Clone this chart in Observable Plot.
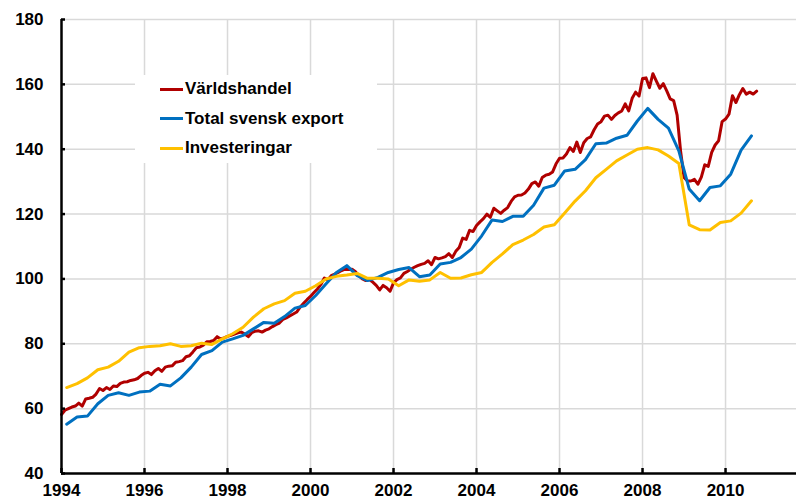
<!DOCTYPE html>
<html><head><meta charset="utf-8">
<script src="https://cdn.jsdelivr.net/npm/d3@7"></script>
<script src="https://cdn.jsdelivr.net/npm/@observablehq/plot@0.6"></script>
<style>
body{margin:0;background:#fff;}
#wrap{position:relative;width:796px;height:502px;font-family:"Liberation Sans",Arial,sans-serif;}
#legend{position:absolute;left:135px;top:75px;width:242px;height:88px;background:#fff;}
.sw{position:absolute;left:25px;width:23px;height:3px;}
.lab{position:absolute;left:50px;font-weight:bold;font-size:17px;white-space:nowrap;line-height:20px;color:#000;}
</style></head>
<body><div id="wrap"></div>
<script>
const seriesNames = ["Världshandel", "Total svensk export", "Investeringar"];
const seriesColors = ["#B00000", "#0070C0", "#FFC000"];

// Världshandel, monthly from Jan 1994 to Oct 2010
const varldshandel = [
  58.2, 59.5, 60.0, 60.5, 60.8, 61.7, 60.8, 63.0, 63.2, 63.5, 64.5, 66.2,
  65.6, 66.5, 65.9, 67.0, 66.8, 67.8, 68.2, 68.3, 68.7, 68.9, 69.3, 70.2,
  70.9, 71.2, 70.5, 71.7, 72.4, 71.5, 72.8, 73.1, 73.2, 74.3, 74.5, 74.8,
  76.0, 76.3, 77.5, 78.8, 79.0, 79.6, 80.6, 80.7, 81.0, 82.2, 81.5, 81.8,
  82.3, 82.6, 83.0, 83.4, 83.6, 83.0, 82.2, 83.4, 83.9, 84.0, 83.6, 84.2,
  84.6, 85.3, 85.9, 86.4, 87.5, 88.0, 88.6, 89.2, 89.8, 91.3, 92.5, 93.6,
  94.6, 95.8, 96.9, 98.3, 100.3, 99.7, 101.0, 101.5, 102.0, 102.6, 103.0, 102.9,
  103.0, 102.2, 101.0, 100.0, 99.5, 99.8, 99.0, 98.0, 96.6, 98.0, 97.3, 96.2,
  98.8, 99.8, 100.3, 101.7, 102.3, 103.0, 103.6, 104.1, 104.5, 104.8, 105.6, 104.4,
  106.6, 106.2, 106.5, 106.9, 107.8, 106.6, 108.5, 109.7, 112.6, 112.2, 115.0, 114.6,
  116.5, 117.6, 118.6, 120.0, 119.0, 121.8, 121.0, 120.2, 121.2, 122.0, 123.9, 125.3,
  125.8, 125.9, 126.5, 127.7, 129.4, 129.9, 128.6, 131.3, 132.0, 132.3, 133.0, 135.5,
  137.2, 137.3, 138.5, 140.5, 139.3, 142.2, 139.0, 142.0, 143.3, 143.8, 146.0, 147.8,
  148.5, 150.2, 150.5, 149.2, 150.4, 151.2, 151.8, 154.0, 151.8, 155.7, 157.6, 156.4,
  161.8, 162.0, 159.0, 163.3, 161.0, 158.8, 160.2, 158.0, 155.5, 155.0, 150.5, 139.5,
  131.3, 130.2, 130.2, 130.7, 129.2, 131.4, 135.2, 134.7, 139.0, 141.3, 142.6, 148.5,
  149.3, 150.8, 156.5, 154.4, 156.8, 158.7, 157.0, 157.6, 157.0, 157.9
];

// Total svensk export, quarterly from 1994Q1 to 2010Q3
const export_ = [
  55.2, 57.4, 57.7, 61.5,
  64.1, 64.9, 64.1, 65.1,
  65.4, 67.5, 67.0, 69.5,
  72.8, 76.7, 77.9, 80.5,
  81.5, 82.6, 84.6, 86.6,
  86.3, 88.4, 91.0, 91.8,
  94.9, 98.5, 102.0, 104.1,
  101.0, 99.5, 100.5, 102.0,
  102.9, 103.5, 100.7, 101.2,
  104.6, 105.1, 106.6, 109.2,
  113.3, 118.2, 117.7, 119.3,
  119.3, 122.7, 128.0, 128.9,
  133.3, 133.8, 136.8, 141.7,
  141.9, 143.4, 144.3, 148.7,
  152.6, 149.2, 146.5, 139.5,
  127.7, 124.1, 128.2, 128.7,
  132.3, 139.7, 144.1
];

// Investeringar, quarterly from 1994Q1 to 2010Q3
const investeringar = [
  66.5, 67.7, 69.5, 72.0,
  72.8, 74.6, 77.4, 78.8,
  79.2, 79.4, 80.0, 79.2,
  79.4, 80.2, 79.8, 81.5,
  83.1, 85.1, 88.2, 90.8,
  92.3, 93.3, 95.6, 96.2,
  97.9, 100.0, 100.8, 101.2,
  101.7, 100.2, 100.2, 100.0,
  97.9, 99.7, 99.3, 99.7,
  102.0, 100.2, 100.3, 101.3,
  102.0, 105.1, 107.7, 110.6,
  112.0, 113.7, 116.0, 116.7,
  120.3, 124.0, 127.2, 131.2,
  133.8, 136.4, 138.2, 140.0,
  140.5, 139.8, 137.9, 135.6,
  116.7, 115.2, 115.1, 117.4,
  117.9, 120.3, 124.1
];

const xTicks = [1994, 1996, 1998, 2000, 2002, 2004, 2006, 2008, 2010];
const xLabels = ["1994", "1996", "1998", "2000", "2002", "2004", "2006", "2008", "2010"];
const yTicks = [40, 60, 80, 100, 120, 140, 160, 180];
const yLabels = ["40", "60", "80", "100", "120", "140", "160", "180"];

const startYear = 1994;
const monthly = varldshandel.map((v, i) => ({t: startYear + i / 12, v}));
const qExport = export_.map((v, i) => ({t: startYear + 0.125 + i * 0.25, v}));
const qInv = investeringar.map((v, i) => ({t: startYear + 0.125 + i * 0.25, v}));

const gridStyle = {stroke: "#d9d9d9", strokeOpacity: 1, strokeWidth: 1.5};

const chart = Plot.plot({
  width: 796, height: 502,
  marginLeft: 61, marginRight: 0, marginTop: 19, marginBottom: 29,
  x: {domain: [1994, 2011.71], axis: null, label: null},
  y: {domain: [40, 180], axis: null, label: null},
  style: {fontFamily: "'Liberation Sans', Arial, sans-serif", fontSize: "17px", fontWeight: "bold", color: "#000", background: "#fff", overflow: "visible"},
  marks: [
    Plot.gridX(xTicks.slice(1), gridStyle),
    Plot.gridY(yTicks.slice(1), gridStyle),
    Plot.line(monthly, {x: "t", y: "v", stroke: seriesColors[0], strokeWidth: 3}),
    Plot.line(qExport, {x: "t", y: "v", stroke: seriesColors[1], strokeWidth: 3}),
    Plot.line(qInv, {x: "t", y: "v", stroke: seriesColors[2], strokeWidth: 3}),
    Plot.ruleX([1994], {stroke: "#000", strokeWidth: 2.5}),
    Plot.ruleY([40], {stroke: "#000", strokeWidth: 2.5}),
    Plot.axisX(xTicks, {tickSize: 5, dy: -5, tickFormat: () => "", label: null, strokeWidth: 2.5, stroke: "#000"}),
    Plot.axisY(yTicks, {tickSize: 4, dx: 4, tickFormat: () => "", label: null, strokeWidth: 2.5, stroke: "#000"}),
    Plot.axisX(xTicks, {tickSize: 0, tickPadding: 10, label: null, tickFormat: d => xLabels[xTicks.indexOf(d)], fill: "#000"}),
    Plot.axisY(yTicks, {tickSize: 0, tickPadding: 18, label: null, tickFormat: d => yLabels[yTicks.indexOf(d)], fill: "#000"})
  ]
});

const wrap = document.getElementById("wrap");
wrap.appendChild(chart);

const legend = document.createElement("div");
legend.id = "legend";
const rowCenters = [14, 43.5, 73];
seriesNames.forEach((name, i) => {
  const sw = document.createElement("div");
  sw.className = "sw";
  sw.style.top = (rowCenters[i] - 1.5) + "px";
  sw.style.background = seriesColors[i];
  legend.appendChild(sw);
  const lab = document.createElement("div");
  lab.className = "lab";
  lab.style.top = (rowCenters[i] - 10) + "px";
  lab.textContent = name;
  legend.appendChild(lab);
});
wrap.appendChild(legend);
</script>
</body></html>
